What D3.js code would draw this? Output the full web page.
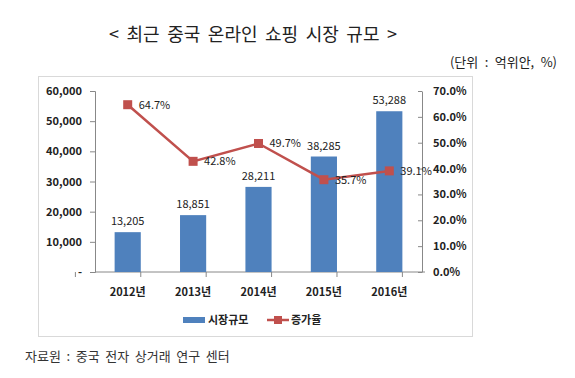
<!DOCTYPE html>
<html>
<head>
<meta charset="utf-8">
<script src="https://cdn.jsdelivr.net/npm/d3@7"></script>
<style>
  body { margin: 0; background: #fff; }
  text { font-family: "Noto Sans CJK KR", sans-serif; }
</style>
</head>
<body>
<div class="graph-content"></div>
<script>
// data
var years = ["2012년", "2013년", "2014년", "2015년", "2016년"];
var marketSize = [13205, 18851, 28211, 38285, 53288];
var growthRate = [64.7, 42.8, 49.7, 35.7, 39.1];
var leftTicks = [0, 10000, 20000, 30000, 40000, 50000, 60000];
var rightTicks = [0, 10, 20, 30, 40, 50, 60, 70];
var seriesNames = ["시장규모", "증가율"];

var barColor = "#4f81bd",
    lineColor = "#c0504d";

var width = 575, height = 378;
var plot = {left: 95, right: 422, top: 91, bottom: 272};

var svg = d3.select(".graph-content").append("svg")
    .attr("width", width)
    .attr("height", height);

// title + unit
svg.append("text")
    .attr("x", 253).attr("y", 41)
    .attr("text-anchor", "middle")
    .style("font-size", "18px")
    .style("word-spacing", "3.5px")
    .attr("fill", "#222")
    .text("< 최근 중국 온라인 쇼핑 시장 규모 >");

svg.append("text")
    .attr("x", 557).attr("y", 67)
    .attr("text-anchor", "end")
    .style("font-size", "13px")
    .style("word-spacing", "3.5px")
    .attr("fill", "#222")
    .text("(단위 : 억위안, %)");

// chart frame
svg.append("rect")
    .attr("x", 38.5).attr("y", 76.5)
    .attr("width", 434).attr("height", 260)
    .attr("fill", "none")
    .attr("stroke", "#d9d9d9");

var x = d3.scaleBand().domain(years)
    .range([plot.left, plot.right])
    .paddingInner(0.6).paddingOuter(0.3);
var y = d3.scaleLinear().domain([0, 60000]).range([plot.bottom, plot.top]);
var y2 = d3.scaleLinear().domain([0, 70]).range([plot.bottom, plot.top]);

// left axis
var gl = svg.append("g")
    .attr("transform", "translate(" + plot.left + ",0)")
    .call(d3.axisLeft(y).tickValues(leftTicks).tickSizeOuter(0).tickSize(5).tickPadding(8)
        .tickFormat(function(d) { return d == 0 ? "-" : d3.format(",")(d); }));

// right axis
var gr = svg.append("g")
    .attr("transform", "translate(" + plot.right + ",0)")
    .call(d3.axisRight(y2).tickValues(rightTicks).tickSizeOuter(0).tickSizeInner(-4).tickPadding(11)
        .tickFormat(function(d) { return d.toFixed(1) + "%"; }));

// x axis, ticks between categories
var gx = svg.append("g")
    .attr("transform", "translate(0," + plot.bottom + ")");
gx.append("line")
    .attr("x1", plot.left).attr("x2", plot.right + 3)
    .attr("stroke", "#888");
var step = x.step();
var sepX = function(i) { return x(years[0]) - x.paddingOuter() * step - x.paddingInner() * step / 2 + i * step; };
gx.selectAll(".sep")
    .data(d3.range(years.length + 1))
    .enter().append("line")
    .attr("x1", sepX)
    .attr("x2", sepX)
    .attr("y1", 0).attr("y2", 5)
    .attr("stroke", "#888");
gx.selectAll(".lab")
    .data(years)
    .enter().append("text")
    .attr("x", function(d) { return x(d) + x.bandwidth() / 2; })
    .attr("y", 24)
    .attr("text-anchor", "middle")
    .style("font-size", "11px")
    .style("font-weight", "bold")
    .attr("fill", "#222")
    .text(function(d) { return d; });

[gl, gr].forEach(function(g) {
    g.select(".domain").attr("stroke", "#888");
    g.selectAll(".tick line").attr("stroke", "#888");
    g.selectAll(".tick text")
        .style("font-size", "11px")
        .style("font-weight", "bold")
        .attr("fill", "#222");
});

// bars
svg.selectAll(".bar")
    .data(marketSize)
    .enter().append("rect")
    .attr("x", function(d, i) { return x(years[i]); })
    .attr("y", function(d) { return y(d); })
    .attr("width", x.bandwidth())
    .attr("height", function(d) { return plot.bottom - y(d); })
    .attr("fill", barColor);

svg.selectAll(".barlab")
    .data(marketSize)
    .enter().append("text")
    .attr("x", function(d, i) { return x(years[i]) + x.bandwidth() / 2; })
    .attr("y", function(d) { return y(d) - 7; })
    .attr("text-anchor", "middle")
    .style("font-size", "11px")
    .attr("fill", "#222")
    .text(function(d) { return d3.format(",")(d); });

// growth line
var line = d3.line()
    .x(function(d, i) { return x(years[i]) + x.bandwidth() / 2; })
    .y(function(d) { return y2(d); });

svg.append("path")
    .datum(growthRate)
    .attr("d", line)
    .attr("fill", "none")
    .attr("stroke", lineColor)
    .attr("stroke-width", 2.5);

svg.selectAll(".mark")
    .data(growthRate)
    .enter().append("rect")
    .attr("x", function(d, i) { return x(years[i]) + x.bandwidth() / 2 - 4.5; })
    .attr("y", function(d) { return y2(d) - 4.5; })
    .attr("width", 9).attr("height", 9)
    .attr("fill", lineColor);

svg.selectAll(".linelab")
    .data(growthRate)
    .enter().append("text")
    .attr("x", function(d, i) { return x(years[i]) + x.bandwidth() / 2 + 11; })
    .attr("y", function(d) { return y2(d) + 4; })
    .style("font-size", "11px")
    .attr("fill", "#222")
    .text(function(d) { return d.toFixed(1) + "%"; });

// legend
var lg = svg.append("g").attr("transform", "translate(0,320)");
lg.append("rect")
    .attr("x", 183).attr("y", -3)
    .attr("width", 22).attr("height", 6)
    .attr("fill", barColor);
lg.append("text")
    .attr("x", 208).attr("y", 4)
    .style("font-size", "11px").style("font-weight", "bold")
    .attr("fill", "#222")
    .text(seriesNames[0]);
lg.append("line")
    .attr("x1", 267).attr("x2", 289)
    .attr("stroke", lineColor).attr("stroke-width", 2.5);
lg.append("rect")
    .attr("x", 274).attr("y", -4)
    .attr("width", 8).attr("height", 8)
    .attr("fill", lineColor);
lg.append("text")
    .attr("x", 291).attr("y", 4)
    .style("font-size", "11px").style("font-weight", "bold")
    .attr("fill", "#222")
    .text(seriesNames[1]);

// source
svg.append("text")
    .attr("x", 25).attr("y", 361)
    .style("font-size", "13px")
    .style("word-spacing", "2.7px")
    .attr("fill", "#333")
    .text("자료원 : 중국 전자 상거래 연구 센터");
</script>
</body>
</html>
